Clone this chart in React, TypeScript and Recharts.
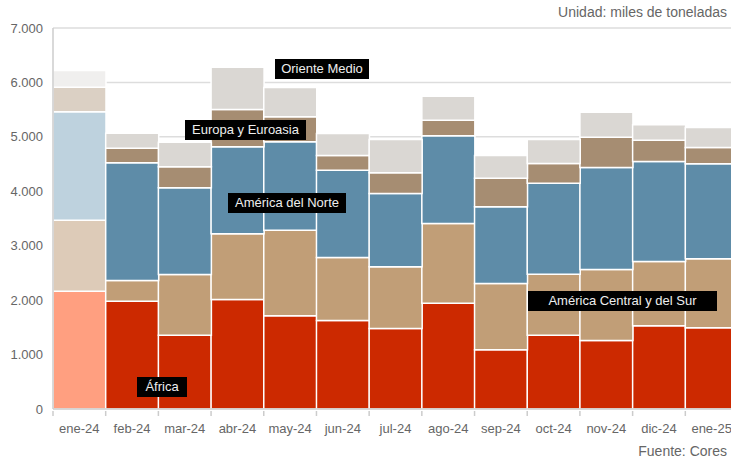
import { BarChart, Bar, XAxis, YAxis, CartesianGrid, Cell } from "recharts";

const months = ["ene-24", "feb-24", "mar-24", "abr-24", "may-24", "jun-24", "jul-24", "ago-24", "sep-24", "oct-24", "nov-24", "dic-24", "ene-25"];
const africa = [2164, 1981, 1356, 2012, 1712, 1626, 1479, 1944, 1088, 1356, 1258, 1529, 1492];
const centralSur = [1305, 380, 1115, 1207, 1573, 1157, 1133, 1464, 1218, 1121, 1305, 1181, 1267];
const norte = [1991, 2162, 1593, 1598, 1624, 1604, 1347, 1611, 1409, 1672, 1874, 1837, 1746];
const europa = [452, 269, 386, 685, 459, 270, 380, 287, 525, 361, 557, 392, 299];
const oriente = [307, 275, 452, 778, 539, 404, 612, 441, 417, 441, 459, 282, 368];
const yTicks = [0, 1000, 2000, 3000, 4000, 5000, 6000, 7000];

const data = months.map((m, i) => ({
  month: m,
  africa: africa[i],
  centralSur: centralSur[i],
  norte: norte[i],
  europa: europa[i],
  oriente: oriente[i],
}));

// color + faded color for the first month
const series = [
  { key: "africa", color: "#CC2900", faded: "#FF9F80" },
  { key: "centralSur", color: "#C19E77", faded: "#DDCBB8" },
  { key: "norte", color: "#5E8CA8", faded: "#BED2DE" },
  { key: "europa", color: "#A68D72", faded: "#DBD0C4" },
  { key: "oriente", color: "#DAD7D3", faded: "#F0EFEE" },
];

const notes = [
  { text: "Oriente Medio", left: 275, top: 59, width: 94 },
  { text: "Europa y Euroasia", left: 185, top: 120, width: 121 },
  { text: "América del Norte", left: 228, top: 193, width: 118 },
  { text: "América Central y del Sur", left: 528, top: 291, width: 189 },
  { text: "África", left: 137, top: 377, width: 50 },
];

const font = "'Liberation Sans', Arial, sans-serif";
const fmt = (v: number) => v.toLocaleString("de-DE");

function MonthTick(props: any) {
  const { x, y, payload } = props;
  const half = payload.offset || 0;
  return (
    <g>
      <line x1={x - half} x2={x - half} y1={y - 5} y2={y} stroke="#ccc" strokeWidth={1.5} />
      <text x={x} y={y + 17} textAnchor="middle" fontSize={13} fill="#666" fontFamily={font}>
        {payload.value}
      </text>
    </g>
  );
}

export default function App() {
  return (
    <div style={{ position: "absolute", left: 0, top: 0, width: 731, height: 461, overflow: "hidden", fontFamily: font, background: "#fff" }}>
      {/* plot runs a bit past the right edge, last bar gets cut like in the original */}
      <BarChart width={738} height={461} data={data} margin={{ top: 28, right: 0, left: 0, bottom: 20 }} barCategoryGap={0}>
        <CartesianGrid vertical={false} stroke="#ddd" strokeWidth={1.5} />
        <XAxis
          dataKey="month"
          height={32}
          stroke="#ccc"
          strokeWidth={1.5}
          tickLine={false}
          tickSize={5}
          tick={<MonthTick />}
          interval={0}
        />
        <YAxis
          width={53}
          domain={[0, 7000]}
          ticks={yTicks}
          tickFormatter={fmt}
          stroke="#ccc"
          strokeWidth={1.5}
          tickLine={false}
          tickSize={0}
          tickMargin={10}
          tick={{ fontSize: 13, fill: "#666", fontFamily: font }}
        />
        {series.map((s) => (
          <Bar key={s.key} dataKey={s.key} stackId="a" isAnimationActive={false} stroke="#fff" strokeWidth={1.5}>
            {data.map((_, i) => (
              <Cell key={`c-${i}`} fill={i === 0 ? s.faded : s.color} />
            ))}
          </Bar>
        ))}
      </BarChart>
      <div style={{ position: "absolute", right: 4, top: 4, fontSize: 14, color: "#666" }}>Unidad: miles de toneladas</div>
      <div style={{ position: "absolute", right: 4, top: 443, fontSize: 14, color: "#666" }}>Fuente: Cores</div>
      {notes.map((n) => (
        <div
          key={n.text}
          style={{
            position: "absolute",
            left: n.left,
            top: n.top,
            width: n.width,
            height: 20,
            lineHeight: "20px",
            background: "#000",
            color: "#eee",
            fontSize: 13,
            textAlign: "center",
          }}
        >
          {n.text}
        </div>
      ))}
    </div>
  );
}
